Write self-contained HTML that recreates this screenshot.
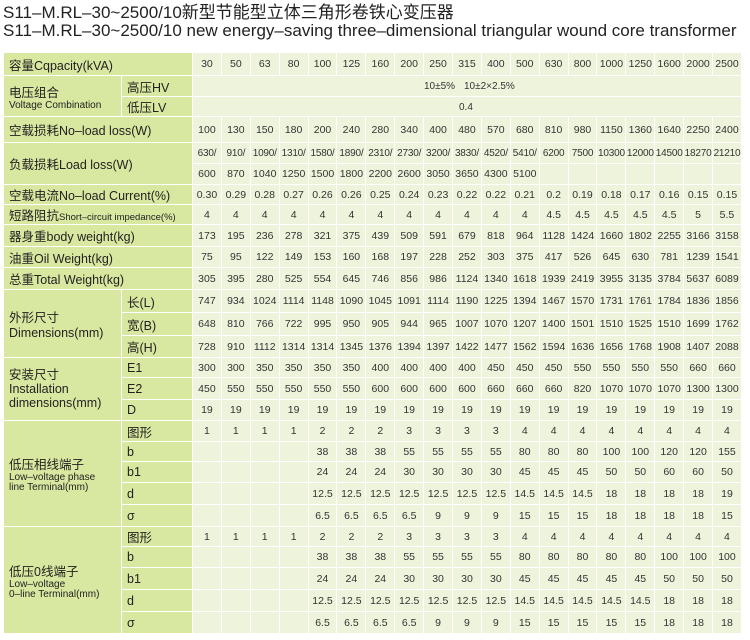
<!DOCTYPE html>
<html><head><meta charset="utf-8">
<style>
body{margin:0;width:750px;height:640px;background:#fff;position:relative;overflow:hidden;font-family:"Liberation Sans","Noto Sans CJK SC",sans-serif;}
.t1,.t2{position:absolute;left:3px;font-size:17px;color:#222;white-space:nowrap;line-height:18px;}
.t1{top:4px}.t2{top:22px}
table{position:absolute;left:3px;top:52px;width:738px;border-collapse:collapse;table-layout:fixed;}
td{border:1px solid #fff;padding:0;font-size:10.5px;color:#333;text-align:center;background:#eef4dc;white-space:nowrap;overflow:visible;}
td.l{background:#d8e8a0;text-align:left;padding-left:5px;font-size:12.5px;color:#222;overflow:hidden;}
td.s{background:#d8e8a0;text-align:left;padding-left:5px;font-size:12.5px;color:#222;}
tr.n td{font-size:10px;letter-spacing:-0.2px;}
.sm{font-size:10px;line-height:10px;display:block;}
.xs{font-size:9.5px;}
.hv{position:absolute;top:5px;font-size:10px;}
</style></head><body>
<div class="t1">S11–M.RL–30~2500/10新型节能型立体三角形卷铁心变压器</div>
<div class="t2">S11–M.RL–30~2500/10 new energy–saving three–dimensional triangular wound core transformer</div>
<table>
<colgroup><col style="width:118px"><col style="width:71px">
<col span="19" style="width:28.9px"></colgroup>
<tr style="height:23px"><td class="l" colspan="2">容量Cqpacity(kVA)</td><td>30</td><td>50</td><td>63</td><td>80</td><td>100</td><td>125</td><td>160</td><td>200</td><td>250</td><td>315</td><td>400</td><td>500</td><td>630</td><td>800</td><td>1000</td><td>1250</td><td>1600</td><td>2000</td><td>2500</td></tr>
<tr style="height:21px"><td class="l" rowspan="2">电压组合<span class="sm">Voltage Combination</span></td><td class="s">高压HV</td><td colspan="19" style="position:relative"><span class="hv" style="left:231px">10±5%</span><span class="hv" style="left:271px">10±2×2.5%</span></td></tr>
<tr style="height:20px"><td class="s">低压LV</td><td colspan="19" style="position:relative"><span class="hv" style="left:266px">0.4</span></td></tr>
<tr style="height:26px"><td class="l" colspan="2">空载损耗No–load loss(W)</td><td>100</td><td>130</td><td>150</td><td>180</td><td>200</td><td>240</td><td>280</td><td>340</td><td>400</td><td>480</td><td>570</td><td>680</td><td>810</td><td>980</td><td>1150</td><td>1360</td><td>1640</td><td>2250</td><td>2400</td></tr>
<tr class="n" style="height:21px"><td class="l" colspan="2" rowspan="2" style="font-size:12.5px;letter-spacing:0">负载损耗Load loss(W)</td><td>630/</td><td>910/</td><td>1090/</td><td>1310/</td><td>1580/</td><td>1890/</td><td>2310/</td><td>2730/</td><td>3200/</td><td>3830/</td><td>4520/</td><td>5410/</td><td>6200</td><td>7500</td><td>10300</td><td>12000</td><td>14500</td><td>18270</td><td>21210</td></tr>
<tr style="height:21px"><td>600</td><td>870</td><td>1040</td><td>1250</td><td>1500</td><td>1800</td><td>2200</td><td>2600</td><td>3050</td><td>3650</td><td>4300</td><td>5100</td><td></td><td></td><td></td><td></td><td></td><td></td><td></td></tr>
<tr style="height:18px"><td class="l" colspan="2">空载电流No–load Current(%)</td><td>0.30</td><td>0.29</td><td>0.28</td><td>0.27</td><td>0.26</td><td>0.26</td><td>0.25</td><td>0.24</td><td>0.23</td><td>0.22</td><td>0.22</td><td>0.21</td><td>0.2</td><td>0.19</td><td>0.18</td><td>0.17</td><td>0.16</td><td>0.15</td><td>0.15</td></tr>
<tr style="height:20px"><td class="l" colspan="2">短路阻抗<span class="xs">Short–circuit impedance(%)</span></td><td>4</td><td>4</td><td>4</td><td>4</td><td>4</td><td>4</td><td>4</td><td>4</td><td>4</td><td>4</td><td>4</td><td>4</td><td>4.5</td><td>4.5</td><td>4.5</td><td>4.5</td><td>4.5</td><td>5</td><td>5.5</td></tr>
<tr style="height:22px"><td class="l" colspan="2">器身重body weight(kg)</td><td>173</td><td>195</td><td>236</td><td>278</td><td>321</td><td>375</td><td>439</td><td>509</td><td>591</td><td>679</td><td>818</td><td>964</td><td>1128</td><td>1424</td><td>1660</td><td>1802</td><td>2255</td><td>3166</td><td>3158</td></tr>
<tr style="height:21px"><td class="l" colspan="2">油重Oil Weight(kg)</td><td>75</td><td>95</td><td>122</td><td>149</td><td>153</td><td>160</td><td>168</td><td>197</td><td>228</td><td>252</td><td>303</td><td>375</td><td>417</td><td>526</td><td>645</td><td>630</td><td>781</td><td>1239</td><td>1541</td></tr>
<tr style="height:22px"><td class="l" colspan="2">总重Total Weight(kg)</td><td>305</td><td>395</td><td>280</td><td>525</td><td>554</td><td>645</td><td>746</td><td>856</td><td>986</td><td>1124</td><td>1340</td><td>1618</td><td>1939</td><td>2419</td><td>3955</td><td>3135</td><td>3784</td><td>5637</td><td>6089</td></tr>
<tr style="height:23px"><td class="l" rowspan="3">外形尺寸<br>Dimensions(mm)</td><td class="s">长(L)</td><td>747</td><td>934</td><td>1024</td><td>1114</td><td>1148</td><td>1090</td><td>1045</td><td>1091</td><td>1114</td><td>1190</td><td>1225</td><td>1394</td><td>1467</td><td>1570</td><td>1731</td><td>1761</td><td>1784</td><td>1836</td><td>1856</td></tr>
<tr style="height:23px"><td class="s">宽(B)</td><td>648</td><td>810</td><td>766</td><td>722</td><td>995</td><td>950</td><td>905</td><td>944</td><td>965</td><td>1007</td><td>1070</td><td>1207</td><td>1400</td><td>1501</td><td>1510</td><td>1525</td><td>1510</td><td>1699</td><td>1762</td></tr>
<tr style="height:22px"><td class="s">高(H)</td><td>728</td><td>910</td><td>1112</td><td>1314</td><td>1314</td><td>1345</td><td>1376</td><td>1394</td><td>1397</td><td>1422</td><td>1477</td><td>1562</td><td>1594</td><td>1636</td><td>1656</td><td>1768</td><td>1908</td><td>1407</td><td>2088</td></tr>
<tr style="height:20px"><td class="l" rowspan="3" style="line-height:14px">安装尺寸<br>Installation<br>dimensions(mm)</td><td class="s">E1</td><td>300</td><td>300</td><td>350</td><td>350</td><td>350</td><td>350</td><td>400</td><td>400</td><td>400</td><td>400</td><td>450</td><td>450</td><td>450</td><td>550</td><td>550</td><td>550</td><td>550</td><td>660</td><td>660</td></tr>
<tr style="height:22px"><td class="s">E2</td><td>450</td><td>550</td><td>550</td><td>550</td><td>550</td><td>550</td><td>600</td><td>600</td><td>600</td><td>600</td><td>660</td><td>660</td><td>660</td><td>820</td><td>1070</td><td>1070</td><td>1070</td><td>1300</td><td>1300</td></tr>
<tr style="height:21px"><td class="s">D</td><td>19</td><td>19</td><td>19</td><td>19</td><td>19</td><td>19</td><td>19</td><td>19</td><td>19</td><td>19</td><td>19</td><td>19</td><td>19</td><td>19</td><td>19</td><td>19</td><td>19</td><td>19</td><td>19</td></tr>
<tr style="height:21px"><td class="l" rowspan="5">低压相线端子<span class="sm">Low–voltage phase<br>line Terminal(mm)</span></td><td class="s">图形</td><td>1</td><td>1</td><td>1</td><td>1</td><td>2</td><td>2</td><td>2</td><td>3</td><td>3</td><td>3</td><td>3</td><td>4</td><td>4</td><td>4</td><td>4</td><td>4</td><td>4</td><td>4</td><td>4</td></tr>
<tr style="height:20px"><td class="s">b</td><td></td><td></td><td></td><td></td><td>38</td><td>38</td><td>38</td><td>55</td><td>55</td><td>55</td><td>55</td><td>80</td><td>80</td><td>80</td><td>100</td><td>100</td><td>120</td><td>120</td><td>155</td></tr>
<tr style="height:21px"><td class="s">b1</td><td></td><td></td><td></td><td></td><td>24</td><td>24</td><td>24</td><td>30</td><td>30</td><td>30</td><td>30</td><td>45</td><td>45</td><td>45</td><td>50</td><td>50</td><td>60</td><td>60</td><td>50</td></tr>
<tr style="height:22px"><td class="s">d</td><td></td><td></td><td></td><td></td><td>12.5</td><td>12.5</td><td>12.5</td><td>12.5</td><td>12.5</td><td>12.5</td><td>12.5</td><td>14.5</td><td>14.5</td><td>14.5</td><td>18</td><td>18</td><td>18</td><td>18</td><td>19</td></tr>
<tr style="height:22px"><td class="s">σ</td><td></td><td></td><td></td><td></td><td>6.5</td><td>6.5</td><td>6.5</td><td>6.5</td><td>9</td><td>9</td><td>9</td><td>15</td><td>15</td><td>15</td><td>18</td><td>18</td><td>18</td><td>18</td><td>15</td></tr>
<tr style="height:20px"><td class="l" rowspan="5">低压0线端子<span class="sm">Low–voltage<br>0–line Terminal(mm)</span></td><td class="s">图形</td><td>1</td><td>1</td><td>1</td><td>1</td><td>2</td><td>2</td><td>2</td><td>3</td><td>3</td><td>3</td><td>3</td><td>4</td><td>4</td><td>4</td><td>4</td><td>4</td><td>4</td><td>4</td><td>4</td></tr>
<tr style="height:21px"><td class="s">b</td><td></td><td></td><td></td><td></td><td>38</td><td>38</td><td>38</td><td>55</td><td>55</td><td>55</td><td>55</td><td>80</td><td>80</td><td>80</td><td>80</td><td>80</td><td>100</td><td>100</td><td>100</td></tr>
<tr style="height:22px"><td class="s">b1</td><td></td><td></td><td></td><td></td><td>24</td><td>24</td><td>24</td><td>30</td><td>30</td><td>30</td><td>30</td><td>45</td><td>45</td><td>45</td><td>45</td><td>45</td><td>50</td><td>50</td><td>50</td></tr>
<tr style="height:22px"><td class="s">d</td><td></td><td></td><td></td><td></td><td>12.5</td><td>12.5</td><td>12.5</td><td>12.5</td><td>12.5</td><td>12.5</td><td>12.5</td><td>14.5</td><td>14.5</td><td>14.5</td><td>14.5</td><td>14.5</td><td>18</td><td>18</td><td>18</td></tr>
<tr style="height:22px"><td class="s">σ</td><td></td><td></td><td></td><td></td><td>6.5</td><td>6.5</td><td>6.5</td><td>6.5</td><td>9</td><td>9</td><td>9</td><td>15</td><td>15</td><td>15</td><td>15</td><td>15</td><td>18</td><td>18</td><td>18</td></tr>
</table>
</body></html>
